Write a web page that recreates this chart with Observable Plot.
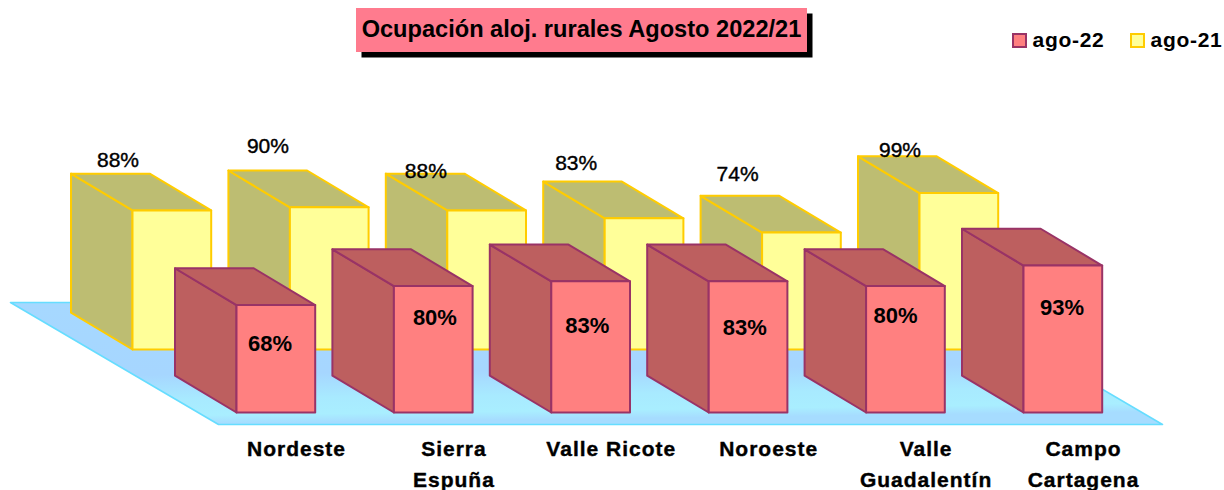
<!DOCTYPE html>
<html lang="es">
<head>
<meta charset="utf-8">
<script src="https://cdn.jsdelivr.net/npm/d3@7"></script>
<script src="https://cdn.jsdelivr.net/npm/@observablehq/plot@0.6"></script>
<style>
  html, body { margin: 0; padding: 0; background: #fff; }
  #page { position: relative; width: 1224px; height: 490px; overflow: hidden; font-family: "Liberation Sans", Arial, sans-serif; color: #000; }
  #title { position: absolute; left: 356px; top: 8px; width: 451px; height: 44px; line-height: 42px; text-align: center; background: #ff7b8e; box-shadow: 5.5px 5.5px 0 #000; font-weight: bold; font-size: 23.6px; white-space: nowrap; z-index: 2; }
  .key { position: absolute; top: 29px; font-weight: bold; font-size: 21px; line-height: 22px; letter-spacing: 0.7px; white-space: nowrap; z-index: 2; }
  .swatch { position: absolute; top: 33px; width: 11px; height: 11px; border: 2px solid; z-index: 2; }
  .cat text { letter-spacing: 1px; }
  svg { display: block; }
</style>
</head>
<body>
<div id="page"></div>
<script>
const categories = ["Nordeste", "Sierra\nEspuña", "Valle Ricote", "Noroeste", "Valle\nGuadalentín", "Campo\nCartagena"];
const ago22 = [68, 80, 83, 83, 80, 93];
const ago21 = [88, 90, 88, 83, 74, 99];
const seriesNames = ["ago-22", "ago-21"];
const titleText = "Ocupación aloj. rurales Agosto 2022/21";

// layout (pixels, turned into scale units below)
const W = 1224, H = 490;
const slotPx = 157.4, pctPx = 1.58;
const originX = 236, originY = 412;
const barW = 78.7, depthX = 61.5, depthY = 36.8;
const rowX = 104, rowY = 63;
const floorFront = [218, 1162], floorFrontY = 424, floorDepthX = 208, floorDepthY = 122;
const catCenter = 60, catTop = 433;
const frontLabelNudge = [[33.5, 38.5], [41, 32], [36, 45], [36, 46.5], [29.5, 30], [38.5, 42]];
const rearLabelNudge = [[47, -13.5], [39.5, -24.5], [40, -2.5], [33, -18.5], [37, -21.5], [42, -6.5]];

const colors = {
  red: {face: "#ff8080", side: "#bd5f5f", stroke: "#993366"},
  yellow: {face: "#ffff99", side: "#bdbd72", stroke: "#ffcc00"}
};

const sx = (px) => px / slotPx;            // pixels -> slots (relative)
const sy = (px) => px / pctPx;             // pixels -> percent (relative, upward)

// a point of a bar: slot i, across a (0..1), value v, depth d (0..1), row shift
function pt(i, a, v, d, row) {
  return {
    x: i + sx(a * barW - d * depthX - row * rowX),
    y: v + sy(d * depthY + row * rowY)
  };
}
function polys(values, row) {
  const side = [], top = [], face = [];
  values.forEach((v, i) => {
    const push = (arr, corners) => [...corners, corners[0]].forEach(([a, h, d]) => arr.push({id: i, ...pt(i, a, h, d, row)}));
    push(side, [[0, 0, 0], [0, v, 0], [0, v, 1], [0, 0, 1]]);
    push(top, [[0, v, 0], [1, v, 0], [1, v, 1], [0, v, 1]]);
    push(face, [[0, 0, 0], [1, 0, 0], [1, v, 0], [0, v, 0]]);
  });
  return {side, top, face};
}
function barMarks(values, row, c) {
  const p = polys(values, row);
  const o = {x: "x", y: "y", z: "id", stroke: c.stroke, strokeWidth: 2, strokeLinejoin: "round"};
  return [
    Plot.line(p.side, {...o, fill: c.side}),
    Plot.line(p.top, {...o, fill: c.side}),
    Plot.line(p.face, {...o, fill: c.face})
  ];
}

// floor parallelogram
const fy0 = sy(originY - floorFrontY);
const fl = sx(floorFront[0] - originX), fr = sx(floorFront[1] - originX);
const fdx = sx(floorDepthX), fdy = sy(floorDepthY);
const floor = [
  {x: fl, y: fy0}, {x: fr, y: fy0}, {x: fr - fdx, y: fy0 + fdy}, {x: fl - fdx, y: fy0 + fdy}, {x: fl, y: fy0}
];

const rearLabels = ago21.map((v, i) => ({
  x: i + sx(-rowX - depthX + rearLabelNudge[i][0]),
  y: v + sy(rowY + depthY - rearLabelNudge[i][1]),
  text: v + "%"
}));
const frontLabels = ago22.map((v, i) => ({
  x: i + sx(frontLabelNudge[i][0]),
  y: v - sy(frontLabelNudge[i][1]),
  text: v + "%"
}));
const catLabels = categories.map((c, i) => ({x: i + sx(catCenter), y: sy(originY - catTop), text: c}));

const font = '"Liberation Sans", Arial, sans-serif';
const chart = Plot.plot({
  width: W, height: H,
  margin: 0,
  x: {axis: null, domain: [sx(-originX), sx(W - originX)], range: [0, W]},
  y: {axis: null, domain: [sy(originY - H), sy(originY)], range: [H, 0]},
  style: {background: "transparent", fontFamily: font},
  marks: [
    Plot.line(floor, {x: "x", y: "y", fill: "url(#floorGrad)", stroke: "#66ddff", strokeWidth: 1.6}),
    ...barMarks(ago21, 1, colors.yellow),
    Plot.text(rearLabels, {x: "x", y: "y", text: "text", fontSize: 21, fill: "#000", stroke: "#000", strokeWidth: 0.4, fontFamily: font}),
    ...barMarks(ago22, 0, colors.red),
    Plot.text(frontLabels, {x: "x", y: "y", text: "text", fontSize: 22, fontWeight: "bold", fill: "#000", fontFamily: font}),
    Plot.text(catLabels, {x: "x", y: "y", text: "text", fontSize: 21, fontWeight: "bold", fill: "#000", stroke: "#000", strokeWidth: 0.4, lineAnchor: "top", lineHeight: 1.5, fontFamily: font, className: "cat"})
  ]
});

// floor shading
const defs = d3.create("svg:defs");
const g = defs.append("linearGradient").attr("id", "floorGrad").attr("x1", 0).attr("y1", 0).attr("x2", 0.12).attr("y2", 1);
[[0, "#a6d8ff"], [0.6, "#a6d6ff"], [0.8, "#a8eaff"], [0.93, "#a9eeff"], [1, "#a6dcff"]].forEach(([o, c]) => g.append("stop").attr("offset", o).attr("stop-color", c));
chart.prepend(defs.node());

const page = document.getElementById("page");
page.appendChild(chart);

const title = document.createElement("div");
title.id = "title";
title.textContent = titleText;
page.appendChild(title);

[[1012, 1032.5, colors.red], [1130, 1150.5, colors.yellow]].forEach(([sw, tx, c], k) => {
  const s = document.createElement("div");
  s.className = "swatch";
  s.style.left = sw + "px";
  s.style.background = c.face;
  s.style.borderColor = c.stroke;
  page.appendChild(s);
  const t = document.createElement("div");
  t.className = "key";
  t.style.left = tx + "px";
  t.textContent = seriesNames[k];
  page.appendChild(t);
});
</script>
</body>
</html>
